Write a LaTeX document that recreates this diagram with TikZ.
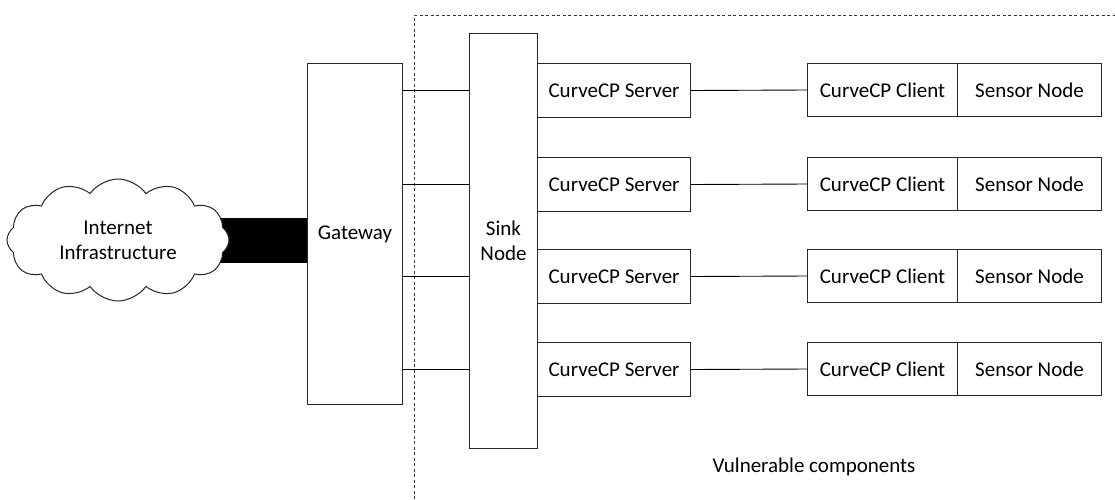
\documentclass[tikz,border=0pt]{standalone}
\usepackage{fontspec}
\setmainfont{Carlito}
\usetikzlibrary{shapes.symbols,backgrounds}
\begin{document}
\begin{tikzpicture}[x=1pt,y=-1pt,
  every node/.style={font=\fontsize{21}{25}\selectfont},
  box/.style={draw=black!85,line width=1pt,inner sep=0pt,anchor=north west},
  conn/.style={draw=black,line width=0.9pt}]
\useasboundingbox (0,0) rectangle (1115,499);
% dashed region
\coordinate (dA) at (414,499);
\coordinate (dB) at (414,15);
\coordinate (dC) at (1115,15);
\draw[black!80,line width=0.8pt,dash pattern=on 3pt off 2.5pt] (dA) -- (dB) -- (dC);
% cloud
\node[cloud,cloud puffs=12,cloud puff arc=110,aspect=1.9,draw=black!85,line width=1pt,fill=white,
  minimum width=222,minimum height=122,inner sep=0pt,align=center] (cloud) at (118,240)
  {Internet\\Infrastructure};
% gateway and sink
\node[box,minimum width=95,minimum height=341] (gw) at (307,63) {};
\node at (gw.center) {Gateway};
\node[box,minimum width=68,minimum height=415] (sink) at (469,33) {};
\node[align=center] at (sink.center) {Sink\\Node};
% servers
\foreach \i/\y in {1/63,2/157,3/249,4/342}{
  \node[box,minimum width=153,minimum height=54] (s\i) at (537,\y) {};
  \node at (s\i.center) {CurveCP Server};
  \node[box,minimum width=150,minimum height=53] (c\i) at (807,\y) {};
  \node at (c\i.center) {CurveCP Client};
  \node[box,minimum width=144,minimum height=53] (n\i) at (957,\y) {};
  \node at (n\i.center) {Sensor Node};
}
% connectors
\foreach \i in {1,2,3,4}{
  \draw[conn] (gw.east |- s\i.west) -- (sink.west |- s\i.west);
  \draw[conn] (s\i.east) -- (c\i.west);
}
\begin{scope}[on background layer]
  \fill[white] (0,0) rectangle (1115,499);
  \fill[black] (cloud.center |- 0,218) rectangle (gw.west |- 0,263);
\end{scope}
\node (vc) at (814,467) {Vulnerable components};
\end{tikzpicture}
\end{document}
